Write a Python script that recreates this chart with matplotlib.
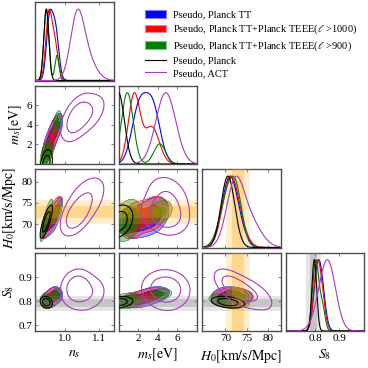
import numpy as np
import matplotlib
matplotlib.use('Agg')
import matplotlib.pyplot as plt
from matplotlib.patches import Patch
from matplotlib.lines import Line2D

plt.rcParams['font.family'] = ['Liberation Serif', 'DejaVu Serif']
plt.rcParams['mathtext.fontset'] = 'stix'

# parameters of the triangle plot
labels = [r'$n_s$', r'$m_s[\mathrm{eV}]$', r'$H_0[\mathrm{km/s/Mpc}]$', r'$S_8$']
lims = [(0.909, 1.145), (0.0, 8.0), (64.5, 83.0), (0.675, 1.005)]
xticks = [[1.0, 1.1], [2, 4, 6], [70, 75, 80], [0.8, 0.9]]
yticks = [[1.0, 1.1], [2, 4, 6], [70, 75, 80], [0.7, 0.8, 0.9]]
ticklabels = {1.0: '1.0', 1.1: '1.1', 0.7: '0.7', 0.8: '0.8', 0.9: '0.9'}

# posterior summaries (mixture components): weight, mean, sigma for (ns, ms, H0, S8)
# correlations per series: ns-ms, ns-H0, ns-S8, ms-H0, ms-S8, H0-S8
tt_w = [0.5, 0.5]
tt_mean = [[0.952, 2.1, 70.6, 0.806], [0.970, 3.5, 72.0, 0.826]]
tt_sig = [[0.009, 0.75, 1.7, 0.015], [0.010, 0.75, 2.0, 0.016]]
tt_corr = [0.6, 0.75, 0.0, 0.3, 0.3, -0.2]

te1000_w = [0.6, 0.4]
te1000_mean = [[0.950, 1.6, 70.9, 0.806], [0.968, 3.4, 72.4, 0.826]]
te1000_sig = [[0.009, 0.6, 1.8, 0.014], [0.010, 0.75, 2.0, 0.015]]
te1000_corr = [0.6, 0.75, 0.0, 0.3, 0.3, -0.2]

te900_w = [0.78, 0.22]
te900_mean = [[0.943, 0.9, 70.9, 0.802], [0.975, 4.2, 72.8, 0.83]]
te900_sig = [[0.0075, 0.6, 2.0, 0.013], [0.006, 0.6, 1.3, 0.011]]
te900_corr = [0.5, 0.85, 0.0, 0.3, 0.2, -0.3]

planck_w = [1.0]
planck_mean = [[0.943, 0.0, 70.6, 0.796]]
planck_sig = [[0.0075, 0.6, 1.6, 0.010]]
planck_corr = [0.3, 0.8, -0.2, 0.3, 0.2, -0.3]

act_w = [0.6, 0.4]
act_mean = [[1.035, 4.7, 72.2, 0.858], [1.06, 5.0, 75.5, 0.835]]
act_sig = [[0.02, 1.0, 2.0, 0.032], [0.028, 1.0, 2.7, 0.035]]
act_corr = [0.5, 0.5, 0.1, -0.2, 0.0, -0.6]

# SH0ES and S8 bands: centre, 1 sigma
h0_band = [72.9, 1.4]
s8_band = [0.792, 0.016]

names = ['Pseudo, Planck TT',
         r'Pseudo, Planck TT+Planck TEEE($\ell$ >1000)',
         r'Pseudo, Planck TT+Planck TEEE($\ell$ >900)',
         'Pseudo, Planck',
         'Pseudo, ACT']
colors = ['#0000ff', '#ff0000', '#008000', 'black', '#a83cb8']
filled = [True, True, True, False, False]
series = [(tt_w, tt_mean, tt_sig, tt_corr),
          (te1000_w, te1000_mean, te1000_sig, te1000_corr),
          (te900_w, te900_mean, te900_sig, te900_corr),
          (planck_w, planck_mean, planck_sig, planck_corr),
          (act_w, act_mean, act_sig, act_corr)]
pair = {(0, 1): 0, (0, 2): 1, (0, 3): 2, (1, 2): 3, (1, 3): 4, (2, 3): 5}


def dens1(x, k, w, mean, sig):
    y = np.zeros_like(x)
    for wi, m, s in zip(w, mean, sig):
        y += wi / s[k] * np.exp(-0.5 * ((x - m[k]) / s[k]) ** 2)
    return y / y.max()


def dens2(X, Y, kx, ky, w, mean, sig, corr):
    r = corr[pair[(min(kx, ky), max(kx, ky))]]
    Z = np.zeros_like(X)
    for wi, m, s in zip(w, mean, sig):
        dx = (X - m[kx]) / s[kx]
        dy = (Y - m[ky]) / s[ky]
        q = (dx ** 2 - 2 * r * dx * dy + dy ** 2) / (1 - r ** 2)
        Z += wi * np.exp(-0.5 * q) / (s[kx] * s[ky] * np.sqrt(1 - r ** 2))
    return Z


def levels(Z):
    z = np.sort(Z.ravel())[::-1]
    c = np.cumsum(z)
    c /= c[-1]
    return z[np.searchsorted(c, 0.95)], z[np.searchsorted(c, 0.68)]


def lighter(c, f=0.5):
    rgb = np.array(matplotlib.colors.to_rgb(c))
    return tuple(rgb + (1 - rgb) * f)


W = 368.0
left, top, size, gap = 35.0, 2.0, 78.5, 5.0
fig = plt.figure(figsize=(3.68, 3.68), dpi=100)


def make_ax(row, col):
    x0 = left + col * (size + gap)
    y0 = top + row * (size + gap)
    ax = fig.add_axes([x0 / W, 1 - (y0 + size) / W, size / W, size / W])
    for sp in ax.spines.values():
        sp.set_color('0.3')
        sp.set_linewidth(1.0)
    ax.tick_params(direction='in', top=True, right=True, length=2.5, width=0.5,
                   color='0.3', labelsize=8, pad=2)
    return ax


def fmt(v):
    return ticklabels.get(v, str(v))


def band(ax, vals, vertical, color):
    c, s = vals
    span = ax.axvspan if vertical else ax.axhspan
    span(c - 2 * s, c + 2 * s, color=color, alpha=0.2, lw=0, zorder=3)
    span(c - s, c + s, color=color, alpha=0.3, lw=0, zorder=3)


n = 4
for i in range(n):
    for j in range(i + 1):
        ax = make_ax(i, j)
        if i == j:
            x = np.linspace(lims[i][0], lims[i][1], 400)
            for (w, mean, sig, corr), c in zip(series, colors):
                ax.plot(x, dens1(x, i, w, mean, sig), color=c, lw=0.8, zorder=4)
            ax.set_ylim(0, 1.1)
            ax.set_yticks([])
            ax.tick_params(left=False, right=False)
            if i == 2:
                band(ax, h0_band, True, 'orange')
            if i == 3:
                band(ax, s8_band, True, 'gray')
        else:
            x = np.linspace(lims[j][0], lims[j][1], 200)
            y = np.linspace(lims[i][0], lims[i][1], 200)
            X, Y = np.meshgrid(x, y)
            for (w, mean, sig, corr), c, f in zip(series, colors, filled):
                Z = dens2(X, Y, j, i, w, mean, sig, corr)
                l95, l68 = levels(Z)
                if f:
                    ax.contourf(X, Y, Z, levels=[l95, l68], colors=[c],
                                alpha=0.35, zorder=2)
                    ax.contourf(X, Y, Z, levels=[l68, Z.max() * 1.01], colors=[c],
                                alpha=0.75, zorder=2)
                    ax.contour(X, Y, Z, levels=[l95, l68], colors=[c],
                               linewidths=0.5, alpha=0.6, zorder=2)
                else:
                    ax.contour(X, Y, Z, levels=[l95, l68], colors=[c],
                               linewidths=0.8, zorder=5)
            ax.set_ylim(lims[i])
            ax.set_yticks(yticks[i])
            if i == 2:
                band(ax, h0_band, False, 'orange')
            if i == 3:
                band(ax, s8_band, False, 'gray')
            if j == 2:
                band(ax, h0_band, True, 'orange')
            if j == 0:
                ax.set_yticklabels([fmt(v) for v in yticks[i]])
                ax.set_ylabel(labels[i], fontsize=10, labelpad=2)
            else:
                ax.set_yticklabels([])
        ax.set_xlim(lims[j])
        ax.set_xticks(xticks[j] if i == n - 1 else yticks[j])
        if i == n - 1:
            ax.set_xticklabels([fmt(v) for v in xticks[j]])
            ax.set_xlabel(labels[j], fontsize=10, labelpad=3)
        else:
            ax.set_xticklabels([])

handles = []
for c, f in zip(colors, filled):
    if f:
        handles.append(Patch(facecolor=c, edgecolor=lighter(c, 0.5), lw=0.8))
    else:
        handles.append(Line2D([0], [0], color=c, lw=0.8))
fig.legend(handles, names, loc='upper left', bbox_to_anchor=(141 / W, 1 - 6 / W),
           frameon=False, fontsize=7.5, handlelength=2.0, handleheight=0.75,
           labelspacing=0.3, borderaxespad=0, handletextpad=0.7)

fig.savefig('out.png', dpi=100)
